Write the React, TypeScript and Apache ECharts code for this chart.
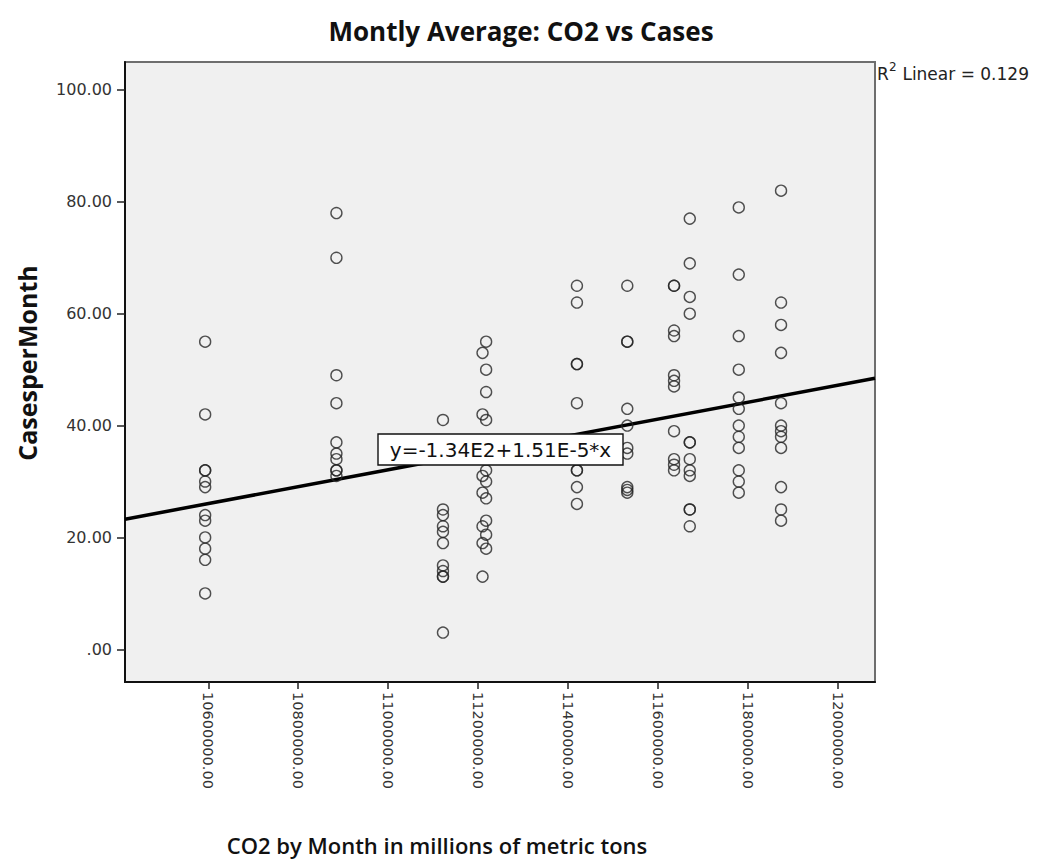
import React, { useEffect, useRef } from "react";
import * as echarts from "echarts";

// CO2 level (x) shared by each column of monthly observations
const co2Levels = [
  10593000, 10885000, 11122000, 11210000, 11218000, 11420000, 11532000,
  11636000, 11671000, 11780000, 11874000,
];

// Cases per month observed at each CO2 level
const casesA = [55, 42, 32, 32, 30, 29, 24, 23, 20, 18, 16, 10];
const casesB = [78, 70, 49, 44, 37, 35, 34, 32, 32, 31];
const casesC = [41, 25, 24, 22, 21, 19, 15, 14, 13, 13, 3];
const casesD = [53, 42, 36, 31, 28, 22, 19, 13];
const casesE = [55, 50, 46, 41, 34, 32, 30, 27, 23, 20.5, 18];
const casesF = [65, 62, 51, 51, 44, 32, 32, 29, 26];
const casesG = [65, 55, 55, 43, 40, 36, 35, 29, 28.5, 28];
const casesH = [65, 65, 57, 56, 49, 48, 47, 39, 34, 33, 32];
const casesI = [77, 69, 63, 60, 37, 37, 34, 32, 31, 25, 25, 22];
const casesJ = [79, 67, 56, 50, 45, 43, 40, 38, 36, 32, 30, 28];
const casesK = [82, 62, 58, 53, 44, 40, 39, 38, 36, 29, 25, 23];

const casesByLevel = [
  casesA, casesB, casesC, casesD, casesE, casesF,
  casesG, casesH, casesI, casesJ, casesK,
];

// Axis ticks
const xTicks = [10600000, 10800000, 11000000, 11200000, 11400000, 11600000, 11800000, 12000000];
const yTicks = [0, 20, 40, 60, 80, 100];

// Linear fit y = intercept + slope * x
const fitIntercept = -134;
const fitSlope = 1.51e-5;
const rSquared = 0.129;

const X_MIN = 10414700;
const X_MAX = 12083000;
const Y_MIN = -5.84;
const Y_MAX = 105;

const LABEL_FONT = "'DejaVu Sans', Verdana, sans-serif";
const TITLE_FONT = "'Open Sans', 'Noto Sans', sans-serif";

const centered = { align: "center", verticalAlign: "middle", textAlign: "center", textVerticalAlign: "middle" };
const leftMid = { align: "left", verticalAlign: "middle", textAlign: "left", textVerticalAlign: "middle" };

export default function App() {
  const ref = useRef<HTMLDivElement>(null);

  useEffect(() => {
    if (!ref.current) return;
    const chart = echarts.init(ref.current, undefined, { renderer: "svg" });

    const points: number[][] = [];
    co2Levels.forEach((x, i) => {
      casesByLevel[i].forEach((y) => points.push([x, y]));
    });

    const fitLine = [
      [X_MIN, fitIntercept + fitSlope * X_MIN],
      [X_MAX, fitIntercept + fitSlope * X_MAX],
    ];

    const eqText = `y=-${(Math.abs(fitIntercept) / 100).toFixed(2)}E2+${(fitSlope * 1e5).toFixed(2)}E-5*x`;

    chart.setOption({
      animation: false,
      backgroundColor: "#ffffff",
      grid: {
        left: 125,
        top: 62,
        right: 167,
        bottom: 177,
        show: true,
        backgroundColor: "#f0f0f0",
        borderColor: "#6e6e6e",
        borderWidth: 2,
      },
      xAxis: {
        type: "value",
        min: X_MIN,
        max: X_MAX,
        splitLine: { show: false },
        axisLine: { show: true, onZero: false, lineStyle: { color: "#111", width: 2 } },
        axisTick: {
          show: true,
          length: 7,
          customValues: xTicks,
          lineStyle: { color: "#222", width: 1.5 },
        },
        axisLabel: {
          customValues: xTicks,
          rotate: -90,
          margin: 10,
          color: "#333",
          fontFamily: LABEL_FONT,
          fontSize: 14.5,
          formatter: (v: number) => v.toFixed(2),
        },
      },
      yAxis: {
        type: "value",
        min: Y_MIN,
        max: Y_MAX,
        splitLine: { show: false },
        axisLine: { show: true, onZero: false, lineStyle: { color: "#111", width: 2 } },
        axisTick: {
          show: true,
          length: 8,
          customValues: yTicks,
          lineStyle: { color: "#222", width: 1.5 },
        },
        axisLabel: {
          customValues: yTicks,
          margin: 13,
          color: "#333",
          fontFamily: LABEL_FONT,
          fontSize: 16,
          formatter: (v: number) => (v === 0 ? ".00" : v.toFixed(2)),
        },
      },
      series: [
        {
          type: "line",
          data: fitLine,
          symbol: "none",
          lineStyle: { color: "#000", width: 3.5 },
          silent: true,
          z: 2,
        },
        {
          type: "scatter",
          data: points,
          symbol: "circle",
          symbolSize: 11,
          itemStyle: { color: "rgba(0,0,0,0)", borderColor: "#262626", borderWidth: 1.4 },
          z: 3,
        },
      ],
      graphic: [
        {
          type: "text",
          x: 521,
          y: 31,
          style: {
            text: "Montly Average: CO2 vs Cases",
            font: `bold 26px ${TITLE_FONT}`,
            fill: "#111",
            ...centered,
          },
        },
        {
          type: "text",
          x: 437,
          y: 845,
          style: {
            text: "CO2 by Month in millions of metric tons",
            font: `600 22px ${TITLE_FONT}`,
            fill: "#111",
            ...centered,
          },
        },
        {
          type: "text",
          x: 27,
          y: 363,
          rotation: Math.PI / 2,
          style: {
            text: "CasesperMonth",
            font: `bold 25px ${TITLE_FONT}`,
            fill: "#111",
            ...centered,
          },
        },
        {
          type: "text",
          x: 877,
          y: 74,
          style: { text: "R", font: `17px ${LABEL_FONT}`, fill: "#222", ...leftMid },
        },
        {
          type: "text",
          x: 889,
          y: 67,
          style: { text: "2", font: `12px ${LABEL_FONT}`, fill: "#222", ...leftMid },
        },
        {
          type: "text",
          x: 897,
          y: 74,
          style: {
            text: ` Linear = ${rSquared.toFixed(3)}`,
            font: `17px ${LABEL_FONT}`,
            fill: "#222",
            ...leftMid,
          },
        },
        {
          type: "rect",
          z: 100,
          shape: { x: 378, y: 434, width: 245, height: 31 },
          style: { fill: "#ffffff", stroke: "#111", lineWidth: 1.4 },
        },
        {
          type: "text",
          z: 101,
          x: 500.5,
          y: 450,
          style: {
            text: eqText,
            font: `20px ${LABEL_FONT}`,
            fill: "#111",
            ...centered,
          },
        },
      ],
    });

    return () => chart.dispose();
  }, []);

  return (
    <div
      ref={ref}
      style={{ position: "fixed", left: 0, top: 0, width: 1042, height: 859 }}
    />
  );
}
